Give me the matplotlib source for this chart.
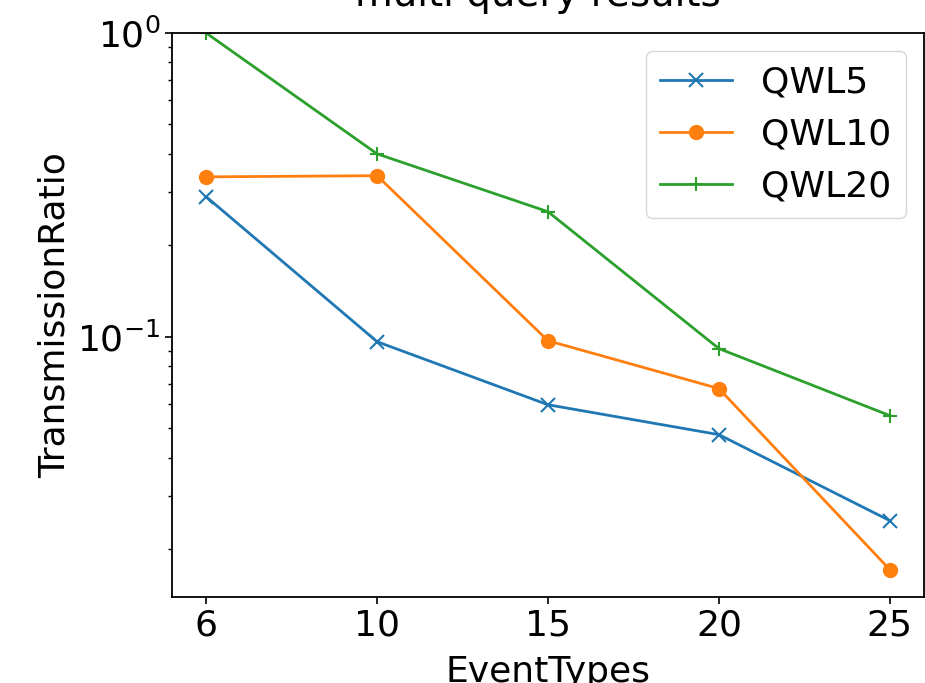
import matplotlib
matplotlib.use("Agg")
import matplotlib.pyplot as plt

event_types = ["6", "10", "15", "20", "25"]
qwl5 = [0.289, 0.0963, 0.0597, 0.0476, 0.0248]
qwl10 = [0.336, 0.339, 0.097, 0.0675, 0.0171]
qwl20 = [1.0, 0.400, 0.258, 0.0914, 0.055]

W, H = 925, 683
fig = plt.figure(figsize=(W / 100, H / 100), dpi=100)
ax = fig.add_axes([172 / W, 1 - 597 / H, 752 / W, (597 - 33) / H])

x = list(range(len(event_types)))
ax.plot(x, qwl5, marker="x", color="#1f77b4", lw=2, ms=10, mew=1.5, label="QWL5")
ax.plot(x, qwl10, marker="o", color="#ff7f0e", lw=2, ms=10, label="QWL10")
ax.plot(x, qwl20, marker="+", color="#2ca02c", lw=2, ms=10, mew=1.5, label="QWL20")

ax.set_yscale("log")
ax.set_ylim(0.0139, 1.0)
ax.set_xticks(x)
ax.set_xticklabels(event_types)
ax.tick_params(labelsize=26, which="major", length=5, width=1.2)
ax.tick_params(which="minor", length=3, width=1)
for s in ax.spines.values():
    s.set_linewidth(1.3)

ax.set_xlabel("EventTypes", fontsize=26, labelpad=9)
ax.set_ylabel("TransmissionRatio", fontsize=26)
fig.text(538 / W, 1 - 6 / H, "multi query results", fontsize=28, ha="center", va="baseline")

leg = ax.legend(fontsize=26, loc="upper right", handlelength=2)

fig.savefig("out.png", dpi=100)
